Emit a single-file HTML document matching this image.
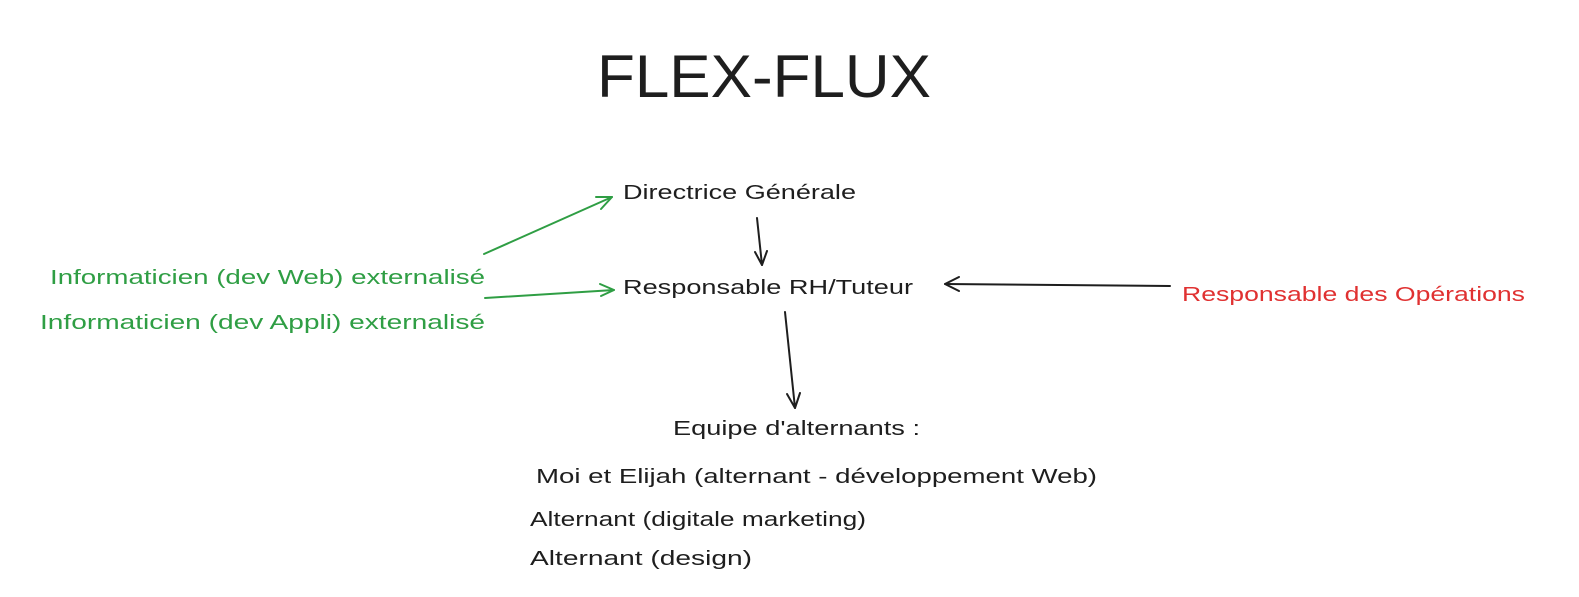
<!DOCTYPE html>
<html><head><meta charset="utf-8"><style>
html,body{margin:0;padding:0;background:#fff;}
svg{display:block;}
text{font-family:"Liberation Sans",sans-serif;}
</style></head><body>
<svg width="1579" height="597" viewBox="0 0 1579 597" xmlns="http://www.w3.org/2000/svg">
<rect width="1579" height="597" fill="#fff"/>
<text x="597" y="97" font-size="60" fill="#1e1e1e" textLength="334" lengthAdjust="spacingAndGlyphs">FLEX-FLUX</text>
<g font-size="20" fill="#1e1e1e">
<text x="623" y="199" textLength="233" lengthAdjust="spacingAndGlyphs">Directrice Générale</text>
<text x="623" y="294" textLength="290" lengthAdjust="spacingAndGlyphs">Responsable RH/Tuteur</text>
<text x="673" y="435" textLength="247" lengthAdjust="spacingAndGlyphs">Equipe d'alternants :</text>
<text x="536" y="483" textLength="561" lengthAdjust="spacingAndGlyphs">Moi et Elijah (alternant - développement Web)</text>
<text x="530" y="526" textLength="336" lengthAdjust="spacingAndGlyphs">Alternant (digitale marketing)</text>
<text x="530" y="565" textLength="222" lengthAdjust="spacingAndGlyphs">Alternant (design)</text>
</g>
<text x="1182" y="301" font-size="20" fill="#e03131" textLength="343" lengthAdjust="spacingAndGlyphs">Responsable des Opérations</text>
<g font-size="20" fill="#2f9e44">
<text x="50" y="284" textLength="435" lengthAdjust="spacingAndGlyphs">Informaticien (dev Web) externalisé</text>
<text x="40" y="329" textLength="445" lengthAdjust="spacingAndGlyphs">Informaticien (dev Appli) externalisé</text>
</g>
<g fill="none" stroke-width="2" stroke-linecap="round" stroke-linejoin="round">
<g stroke="#2f9e44">
<path d="M484 254 L612 197"/><path d="M596 197 L612 197 L601 209"/>
<path d="M485 298 L614 290"/><path d="M600 284 L614 290 L601 296"/>
</g>
<g stroke="#1e1e1e">
<path d="M757 218 L762 265"/><path d="M755 252 L762 265 L767 251"/>
<path d="M1170 286 L945 284"/><path d="M959 277 L945 284 L959 291"/>
<path d="M785 312 L795 408"/><path d="M787 394 L795 408 L800 393"/>
</g>
</g>
</svg>
</body></html>
